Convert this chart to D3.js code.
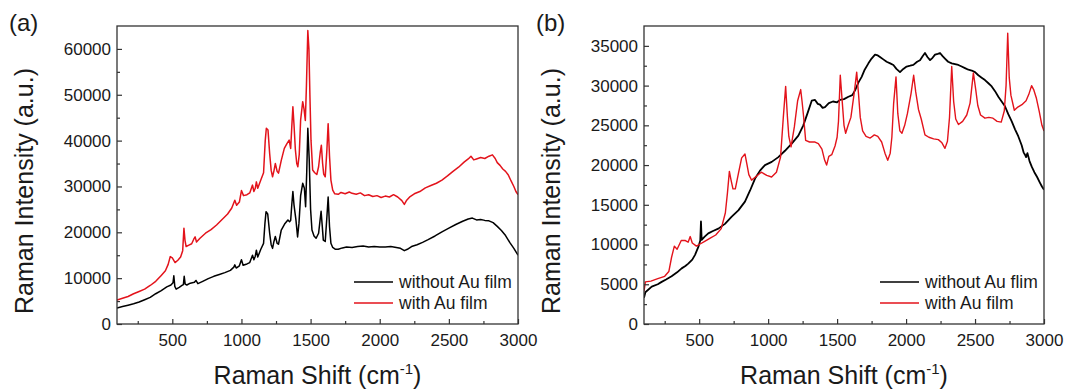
<!DOCTYPE html>
<html>
<head>
<meta charset="utf-8">
<script src="https://cdn.jsdelivr.net/npm/d3@7"></script>
<style>
  body { margin: 0; background: #fff; }
  svg { display: block; font-family: "Liberation Sans", Arial, sans-serif; }
</style>
</head>
<body>
<div id="chart"></div>
<script>
const shiftTicks = [500, 1000, 1500, 2000, 2500, 3000];
const shiftMinorTicks = [250, 750, 1250, 1750, 2250, 2750];
const intensityTicksA = [0, 10000, 20000, 30000, 40000, 50000, 60000];
const intensityMinorA = [5000, 15000, 25000, 35000, 45000, 55000];
const intensityTicksB = [0, 5000, 10000, 15000, 20000, 25000, 30000, 35000];
const intensityMinorB = [2500, 7500, 12500, 17500, 22500, 27500, 32500];
const legendA = ['without Au film', 'with Au film'];
const legendB = ['without Au flim', 'with Au film'];

// (a) [Raman shift, intensity]
const aWithout = [[100,3500],[140,3800],[180,4100],[220,4400],[260,4800],[300,5300],[340,5800],[380,6600],[420,7300],[460,8100],[490,8500],[505,9000],[511,10500],[518,8200],[528,7600],[550,8000],[570,8400],[580,8600],[586,10400],[593,8700],[605,8500],[630,8900],[660,9100],[671,9500],[685,8800],[720,9300],[760,9900],[800,10400],[840,10800],[880,11200],[920,11700],[945,12400],[952,12900],[962,12200],[985,12700],[1000,14000],[1012,12800],[1040,13100],[1060,13400],[1080,15000],[1090,14000],[1100,14800],[1108,16100],[1118,14600],[1140,16300],[1160,17600],[1170,22000],[1178,24500],[1190,24000],[1204,19800],[1215,17300],[1225,16500],[1235,18000],[1245,19100],[1258,17600],[1268,17400],[1288,20500],[1312,21800],[1336,22700],[1348,22300],[1356,22600],[1364,26000],[1372,28900],[1380,26000],[1394,22700],[1406,19000],[1416,22000],[1428,28000],[1443,30700],[1455,29600],[1464,25600],[1472,33000],[1480,42700],[1490,36000],[1500,25000],[1510,20500],[1525,19200],[1540,18700],[1558,19800],[1568,22500],[1576,24600],[1584,21500],[1592,18300],[1606,18000],[1618,23400],[1627,27700],[1637,21200],[1647,17600],[1660,16700],[1680,16300],[1700,16300],[1730,16600],[1760,16800],[1800,16700],[1840,16900],[1880,17000],[1920,16800],[1960,16900],[2000,16800],[2040,16800],[2080,16900],[2120,16700],[2150,16500],[2178,16000],[2200,16300],[2230,16900],[2270,17300],[2310,17800],[2350,18400],[2400,19200],[2450,20100],[2500,20900],[2550,21700],[2600,22400],[2640,22900],[2670,23100],[2700,22700],[2730,22800],[2760,22600],[2790,22500],[2820,22100],[2850,21300],[2880,20400],[2910,19300],[2940,17800],[2970,16500],[3000,15000]];
const aWith = [[100,5200],[140,5600],[180,6000],[220,6600],[260,7100],[300,7600],[340,8400],[380,9300],[420,10600],[450,11600],[470,13000],[485,14700],[500,14400],[520,13400],[540,13900],[560,14600],[575,16000],[584,20900],[592,18200],[600,16900],[620,17200],[640,17500],[655,18500],[665,19000],[675,17900],[700,18700],[740,19800],[780,20600],[820,21600],[860,22800],[900,24000],[930,25300],[952,27000],[965,25900],[985,26600],[1000,29100],[1015,28000],[1040,28200],[1060,28600],[1080,30300],[1090,28900],[1100,29600],[1108,31000],[1118,29600],[1140,31400],[1160,33000],[1172,40000],[1180,42700],[1192,42300],[1204,37200],[1215,33500],[1225,32100],[1235,33400],[1245,35000],[1258,33300],[1268,32900],[1288,35700],[1310,38300],[1330,39400],[1345,40100],[1356,38300],[1364,43000],[1372,47400],[1380,43500],[1390,38000],[1400,35000],[1408,34300],[1418,37000],[1428,44500],[1443,48500],[1452,47000],[1462,44400],[1470,52000],[1480,64000],[1488,60000],[1495,50000],[1503,40100],[1515,33600],[1530,33000],[1545,32600],[1558,34300],[1570,37500],[1578,39000],[1587,35000],[1595,32700],[1606,32100],[1618,38000],[1627,43700],[1637,36600],[1647,31400],[1660,29200],[1675,28400],[1700,28300],[1720,28700],[1750,28400],[1780,28800],[1800,28500],[1830,28300],[1860,28600],[1890,28000],[1920,28200],[1950,27800],[1980,28000],[2010,27600],[2040,27900],[2070,27700],[2100,28200],[2130,27700],[2160,26900],[2178,26100],[2195,27000],[2220,27800],[2250,28400],[2290,28900],[2330,29700],[2370,30200],[2410,30700],[2450,31400],[2490,32300],[2530,33300],[2570,34200],[2610,35300],[2640,36000],[2660,36600],[2680,35800],[2700,36000],[2730,36300],[2760,36100],[2790,36600],[2815,36900],[2835,36100],[2850,35200],[2870,34600],[2890,33800],[2910,33300],[2930,32500],[2950,31200],[2970,30000],[2985,28900],[3000,28200]];

// (b)
const bWithout = [[100,3300],[110,4000],[156,4700],[200,5000],[228,5300],[260,5600],[300,6000],[340,6500],[373,7000],[400,7300],[421,7600],[450,8100],[470,8700],[494,9700],[508,10500],[513,12900],[518,10600],[540,11000],[566,11400],[600,11700],[639,12000],[687,12600],[736,13500],[784,14300],[832,15400],[869,16800],[905,18300],[941,19300],[977,20000],[1026,20400],[1074,21000],[1122,21800],[1171,22700],[1219,23700],[1255,25000],[1287,26600],[1316,28100],[1340,28200],[1360,27700],[1376,27600],[1395,27200],[1412,27300],[1440,27800],[1470,28000],[1500,27900],[1521,28200],[1550,28300],[1582,28600],[1610,28800],[1630,29400],[1655,30400],[1678,31100],[1700,32000],[1727,32800],[1750,33400],[1775,33900],[1795,33800],[1811,33600],[1835,33300],[1859,33000],[1885,32800],[1908,32600],[1930,32100],[1956,31700],[1980,32100],[2004,32400],[2030,32500],[2053,32600],[2080,33000],[2101,33200],[2120,33700],[2137,34100],[2155,33600],[2174,33200],[2192,33500],[2210,33900],[2230,34000],[2246,34100],[2265,33700],[2282,33400],[2305,33000],[2331,32800],[2355,32700],[2379,32600],[2403,32400],[2427,32200],[2452,32000],[2476,31900],[2500,31700],[2524,31300],[2548,31000],[2572,30700],[2597,30300],[2621,29900],[2645,29300],[2669,28600],[2693,28000],[2717,27400],[2741,26400],[2766,25500],[2790,24500],[2814,23600],[2838,22500],[2852,21600],[2862,21300],[2870,21000],[2880,21500],[2895,20500],[2911,19800],[2930,19100],[2950,18500],[2970,17800],[2985,17300],[3000,16900]];
const bWith = [[100,4100],[110,5300],[150,5400],[200,5700],[250,6000],[280,6600],[300,8400],[320,9800],[340,9400],[370,10500],[400,10500],[420,10300],[435,11000],[450,10200],[480,9800],[510,10100],[540,10400],[580,10800],[620,11200],[660,12000],[690,14000],[705,16500],[719,19200],[730,18200],[745,17000],[762,17000],[785,19000],[808,20900],[832,21400],[845,20200],[860,18800],[880,18100],[915,18600],[950,19100],[990,18700],[1025,18500],[1060,19100],[1090,21000],[1110,26000],[1127,29900],[1140,26000],[1150,23600],[1166,22300],[1190,24800],[1214,28100],[1236,29500],[1246,28000],[1256,26300],[1272,23100],[1300,22900],[1340,22900],[1364,22700],[1390,22000],[1410,20600],[1424,20000],[1440,21100],[1461,21300],[1485,22400],[1500,23500],[1510,25500],[1523,31300],[1538,27800],[1550,25000],[1562,24000],[1580,25000],[1600,26000],[1625,29200],[1642,31700],[1655,29000],[1668,26000],[1685,24300],[1710,23600],[1740,23400],[1770,23800],[1795,23600],[1823,22900],[1847,21500],[1867,20600],[1885,21500],[1897,23500],[1910,27800],[1927,31100],[1940,26500],[1955,24300],[1970,24000],[1990,25000],[2010,26500],[2036,29000],[2055,31300],[2070,29200],[2090,27000],[2110,25800],[2137,23800],[2165,23500],[2200,23300],[2234,23200],[2260,22800],[2282,22100],[2300,23000],[2315,26000],[2331,32400],[2345,28000],[2360,25800],[2380,25100],[2410,25500],[2440,26300],[2464,27800],[2488,31600],[2505,29500],[2520,27500],[2540,26300],[2572,25900],[2600,26000],[2630,25900],[2660,25500],[2690,25400],[2712,26800],[2725,30000],[2737,36600],[2748,31000],[2760,28800],[2785,26900],[2810,27300],[2840,27600],[2870,28100],[2890,28900],[2910,30000],[2925,29500],[2945,28400],[2965,26800],[2985,25000],[3000,24300]];

const BLACK = '#000000';
const RED = '#e3131b';
const FRAME = '#333333';

const svg = d3.select('#chart').append('svg')
  .attr('width', 1068)
  .attr('height', 392)
  .style('background', '#fff');

function drawPanel(opts) {
  const { left, right, top, bottom, yMax, yTicks, yMinor, series, legend, tag } = opts;

  const x = d3.scaleLinear().domain([100, 3000]).range([left, right]);
  const y = d3.scaleLinear().domain([0, yMax]).range([bottom, top]);

  const clipId = 'clip-' + tag.replace(/\W/g, '');
  svg.append('clipPath').attr('id', clipId)
    .append('rect')
    .attr('x', left).attr('y', top)
    .attr('width', right - left).attr('height', bottom - top);

  const line = d3.line()
    .x(d => x(d[0]))
    .y(d => y(d[1]));

  const lines = svg.append('g').attr('clip-path', `url(#${clipId})`);
  series.forEach(s => {
    lines.append('path')
      .datum(s.data)
      .attr('fill', 'none')
      .attr('stroke', s.color)
      .attr('stroke-width', s.width)
      .attr('stroke-linejoin', 'round')
      .attr('d', line);
  });

  // axes, ticks pointing inward
  const styleAxis = g => {
    g.select('.domain').remove();
    g.selectAll('line').attr('stroke', FRAME).attr('stroke-width', 1.2);
    g.selectAll('text').attr('fill', '#1a1a1a').style('font-size', '17px');
  };

  svg.append('g')
    .attr('transform', `translate(0,${bottom})`)
    .call(d3.axisBottom(x).tickValues(shiftTicks).tickSize(-5).tickFormat(d3.format('d')))
    .call(styleAxis)
    .call(g => g.selectAll('text').attr('dy', '0.71em').attr('y', 10));
  svg.append('g')
    .attr('transform', `translate(0,${bottom})`)
    .call(d3.axisBottom(x).tickValues(shiftMinorTicks).tickSize(-3).tickFormat(''))
    .call(styleAxis);

  svg.append('g')
    .attr('transform', `translate(${left},0)`)
    .call(d3.axisLeft(y).tickValues(yTicks).tickSize(-5).tickPadding(6).tickFormat(d3.format('d')))
    .call(styleAxis);
  svg.append('g')
    .attr('transform', `translate(${left},0)`)
    .call(d3.axisLeft(y).tickValues(yMinor).tickSize(-3).tickFormat(''))
    .call(styleAxis);

  svg.append('rect')
    .attr('x', left).attr('y', top)
    .attr('width', right - left).attr('height', bottom - top)
    .attr('fill', 'none')
    .attr('stroke', FRAME)
    .attr('stroke-width', 1.3);

  // legend
  const lg = svg.append('g');
  legend.forEach((label, i) => {
    const ly = bottom - 42 + i * 21;
    lg.append('line')
      .attr('x1', right - 164).attr('x2', right - 125)
      .attr('y1', ly).attr('y2', ly)
      .attr('stroke', series[i].color)
      .attr('stroke-width', 1.4);
    lg.append('text')
      .attr('x', right - 119).attr('y', ly)
      .attr('dy', '0.35em')
      .style('font-size', '17.5px')
      .attr('fill', '#1a1a1a')
      .text(label);
  });

  const title = svg.append('text')
    .attr('x', (left + right) / 2)
    .attr('y', 384)
    .attr('text-anchor', 'middle')
    .style('font-size', '25px')
    .attr('fill', '#1a1a1a');
  title.append('tspan').text('Raman Shift (cm');
  title.append('tspan').attr('dy', -10).style('font-size', '15px').text('-1');
  title.append('tspan').attr('dy', 10).text(')');

  svg.append('text')
    .attr('transform', `translate(${left - 84},${(top + bottom) / 2 + 16}) rotate(-90)`)
    .attr('text-anchor', 'middle')
    .style('font-size', '25px')
    .attr('fill', '#1a1a1a')
    .text('Raman Intensity (a.u.)');

  svg.append('text')
    .attr('x', left - 108)
    .attr('y', 31)
    .style('font-size', '24px')
    .attr('fill', '#1a1a1a')
    .text(tag);
}

drawPanel({
  left: 117, right: 518, top: 26, bottom: 324,
  yMax: 65000, yTicks: intensityTicksA, yMinor: intensityMinorA,
  series: [{ data: aWithout, color: BLACK, width: 1.5 }, { data: aWith, color: RED, width: 1.5 }],
  legend: legendA, tag: '(a)'
});

drawPanel({
  left: 644, right: 1044, top: 26, bottom: 324,
  yMax: 37500, yTicks: intensityTicksB, yMinor: intensityMinorB,
  series: [{ data: bWithout, color: BLACK, width: 1.8 }, { data: bWith, color: RED, width: 1.4 }],
  legend: legendB, tag: '(b)'
});
</script>
</body>
</html>
